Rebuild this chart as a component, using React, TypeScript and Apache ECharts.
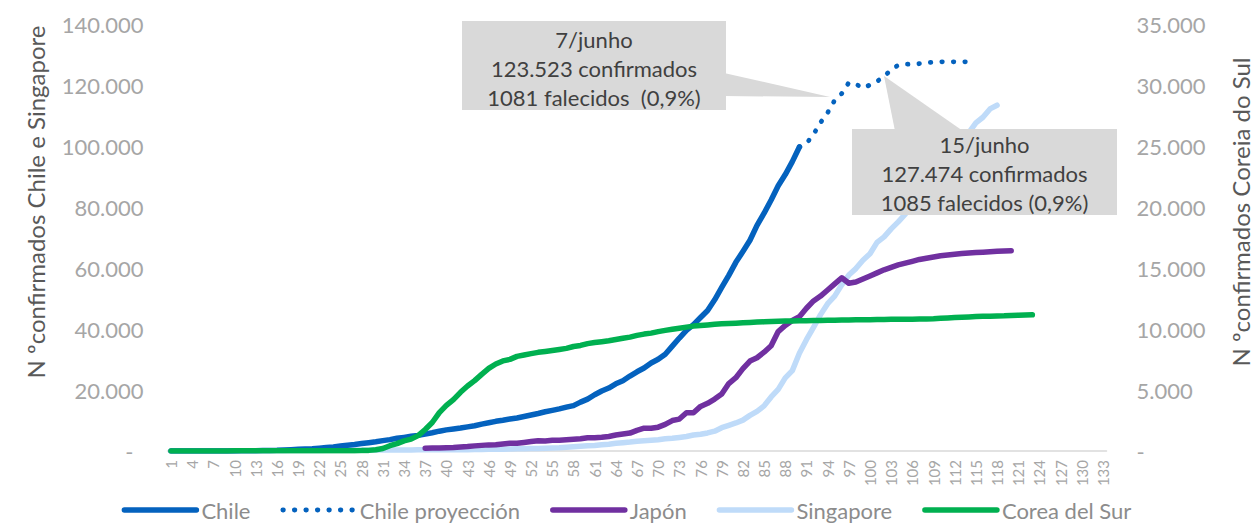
import React, { useEffect, useRef } from "react";
import * as echarts from "echarts";

// Day index (x axis categories)
const days: string[] = Array.from({ length: 133 }, (_, i) => String(i + 1));

// Chile confirmed, days 1..90 (left axis)
const chile = [
  1, 3, 4, 5, 7, 10, 13, 17, 23, 33, 43, 61, 75, 156, 201, 238, 342, 434, 537, 632,
  746, 922, 1142, 1306, 1610, 1909, 2139, 2449, 2738, 3031, 3404, 3737, 4161, 4471, 4815, 5116, 5546, 5972, 6501, 6927,
  7213, 7525, 7917, 8273, 8807, 9252, 9730, 10088, 10507, 10832, 11296, 11812, 12306, 12858, 13331, 13813, 14365, 14885, 16023, 17008,
  18435, 19663, 20643, 22016, 23048, 24581, 25972, 27219, 28866, 30063, 31721, 34381, 37040, 39542, 41428, 43781, 46059, 49579, 53617, 57581,
  61857, 65393, 69102, 73997, 77961, 82289, 86943, 90638, 94858, 99688,
];

// Chile projection, days 90..114 (left axis)
const chileProjStartDay = 90;
const chileProj = [
  99688, 100800, 103800, 107700, 110900, 115000, 117200, 120800, 120300, 119000,
  120000, 121200, 122800, 125000, 126500, 126900, 126700, 127000, 127300, 127500,
  127600, 127600, 127600, 127600, 127600,
];

// Japan confirmed, days 37..120 (right axis)
const japanStartDay = 37;
const japan = [
  228, 241, 256, 274, 293, 331, 360, 420, 461, 502, 511, 581, 639, 639, 701, 773, 839, 825, 878, 889,
  924, 963, 1007, 1086, 1086, 1128, 1193, 1307, 1387, 1468, 1693, 1866, 1866, 1953, 2178, 2495, 2617, 3139, 3139, 3654,
  3906, 4257, 4667, 5530, 6005, 6748, 7370, 7645, 8100, 8626, 9787, 10296, 10700, 11000, 11700, 12300, 12700, 13200, 13700, 14200,
  13750, 13850, 14100, 14350, 14600, 14850, 15050, 15250, 15400, 15550, 15700, 15800, 15900, 16000, 16060, 16120, 16180, 16230, 16270, 16300,
  16340, 16370, 16400, 16420,
];

// Singapore confirmed, days 1..118 (right axis)
const singapore = [
  0, 1, 3, 3, 4, 5, 7, 7, 10, 13,
  16, 18, 18, 24, 28, 28, 30, 33, 40, 45, 47, 50, 58, 67, 72, 75, 77, 81, 84, 84, 85, 85, 89, 89, 91, 93, 93, 93, 102,
  106, 108, 110, 110, 117, 130, 138, 150, 150, 160, 178, 178, 200, 212, 226, 243, 266, 313, 345, 385, 432, 455, 509, 558, 631, 683, 732, 802, 844, 879, 926,
  1000, 1049, 1114, 1189, 1309, 1375, 1481, 1623, 1910, 2108, 2299, 2532, 2918, 3252, 3699, 4427, 5050, 5992, 6588, 8014, 9125, 10141, 11178, 12075, 12693, 13624, 14423, 14951, 15641, 16169,
  17101, 17548, 18205, 18778, 19410, 20198, 20939, 21707, 22460, 23336, 23822, 24671, 25346, 26098, 26891, 27356, 28038, 28343,
];

// South Korea confirmed, days 1..123 (right axis)
const korea = [
  1, 1, 2, 2, 3, 4, 4, 4, 4, 11,
  12, 15, 15, 16, 19, 23, 24, 24, 27, 27, 28, 28, 28, 28, 28, 29, 30, 31, 51, 104, 204, 433, 602, 833, 977, 1261, 1766, 2337, 3150,
  3736, 4212, 4812, 5328, 5766, 6284, 6767, 7134, 7382, 7513, 7755, 7869, 7979, 8086, 8162, 8236, 8320, 8413, 8565, 8652, 8799, 8897, 8961, 9037, 9137, 9241, 9332, 9478, 9583, 9661, 9786,
  9887, 9976, 10062, 10156, 10237, 10284, 10331, 10384, 10423, 10450, 10480, 10512, 10537, 10564, 10591, 10613, 10635, 10653, 10661, 10674, 10683, 10694, 10702, 10708, 10718, 10728, 10738, 10752, 10761, 10765,
  10774, 10780, 10793, 10801, 10804, 10806, 10810, 10822, 10840, 10874, 10909, 10936, 10962, 10991, 11018, 11037, 11050, 11065, 11078, 11110, 11122, 11142, 11165,
];

const leftTicks = { min: 0, max: 140000, interval: 20000 };
const rightTicks = { min: 0, max: 35000, interval: 5000 };

const seriesNames = ["Chile", "Chile proyección", "Japón", "Singapore", "Corea del Sur"];
const colors = ["#0462BE", "#0462BE", "#7030A0", "#BFDBF9", "#00B050"];

const note1 = ["7/junho", "123.523 confirmados", "1081 falecidos  (0,9%)"];
const note2 = ["15/junho", "127.474 confirmados", "1085 falecidos (0,9%)"];
const leftName = "N ºconfirmados Chile e Singapore";
const rightName = "N ºconfirmados Coreia do Sul";

const FONT = "Lato, 'Open Sans', sans-serif";
const DOT: number[] = [0.5, 11];

function fmt(v: number): string {
  if (v === 0) return "-";
  return String(v).replace(/\B(?=(\d{3})+(?!\d))/g, ".");
}

function pad(startDay: number, values: number[]): (number | null)[] {
  const out: (number | null)[] = [];
  for (let i = 1; i < startDay; i++) out.push(null);
  return out.concat(values);
}

export default function App() {
  const ref = useRef<HTMLDivElement>(null);
  useEffect(() => {
    if (!ref.current) return;
    const chart = echarts.init(ref.current, undefined, { renderer: "svg" });
    const lineBase = (i: number, w = 5.5) => ({
      name: seriesNames[i],
      type: "line" as const,
      symbol: "none",
      showSymbol: false,
      smooth: false,
      connectNulls: false,
      color: colors[i],
      lineStyle: { color: colors[i], width: w, cap: "round", join: "round" },
    });
    chart.setOption({
      animation: false,
      grid: { left: 167.5, right: 146.5, top: 24, bottom: 72, containLabel: false },
      legend: {
        data: seriesNames.map((n, i) =>
          i === 1
            ? { name: n, lineStyle: { width: 4.8, type: DOT, cap: "round", color: colors[i] } }
            : { name: n, lineStyle: { width: 5.5, cap: "round", color: colors[i] } }
        ),
        top: 494,
        left: "center",
        itemWidth: 72,
        itemHeight: 6,
        itemGap: 30,
        itemStyle: { opacity: 0 },
        textStyle: { color: "#8C8C8C", fontSize: 22, fontFamily: FONT },
      },
      xAxis: {
        type: "category",
        data: days,
        boundaryGap: true,
        axisLine: { show: true, lineStyle: { color: "#D9D9D9", width: 1.5 } },
        axisTick: { show: false },
        axisLabel: {
          interval: 2,
          rotate: 90,
          margin: 9,
          color: "#A6A6A6",
          fontSize: 15,
          fontFamily: FONT,
        },
        splitLine: { show: false },
      },
      yAxis: [
        {
          type: "value",
          ...leftTicks,
          position: "left",
          axisLine: { show: false },
          axisTick: { show: false },
          splitLine: { show: false },
          axisLabel: {
            margin: 24,
            color: "#A6A6A6",
            fontSize: 22,
            fontFamily: FONT,
            formatter: (v: number) => (v === 0 ? "{d|-}" : fmt(v)),
            rich: { d: { color: "#A6A6A6", fontSize: 22, fontFamily: FONT, padding: [0, 10, 0, 0] } },
          },
        },
        {
          type: "value",
          ...rightTicks,
          position: "right",
          axisLine: { show: false },
          axisTick: { show: false },
          splitLine: { show: false },
          axisLabel: {
            margin: 30,
            color: "#A6A6A6",
            fontSize: 22,
            fontFamily: FONT,
            formatter: (v: number) => fmt(v),
          },
        },
      ],
      series: [
        { ...lineBase(0), yAxisIndex: 0, data: chile, z: 4 },
        {
          ...lineBase(1, 4.8),
          yAxisIndex: 0,
          data: pad(chileProjStartDay, chileProj),
          lineStyle: { color: colors[1], width: 4.8, type: DOT, cap: "round", join: "round" },
          z: 4,
        },
        { ...lineBase(2), yAxisIndex: 1, data: pad(japanStartDay, japan), z: 3 },
        { ...lineBase(3), yAxisIndex: 1, data: singapore, z: 2 },
        { ...lineBase(4), yAxisIndex: 1, data: korea, z: 5 },
      ],
      graphic: [
        {
          type: "text",
          x: 35,
          y: 202,
          rotation: Math.PI / 2,
          style: { text: leftName, fill: "#595959", font: `24px ${FONT}`, align: "center", verticalAlign: "middle" },
        },
        {
          type: "text",
          x: 1240,
          y: 212,
          rotation: Math.PI / 2,
          style: { text: rightName, fill: "#595959", font: `24px ${FONT}`, align: "center", verticalAlign: "middle" },
        },
        // Callout 1
        {
          type: "polygon",
          z: 100,
          shape: { points: [[724, 73], [830, 97], [724, 96]] },
          style: { fill: "#D9D9D9" },
        },
        {
          type: "rect",
          z: 100,
          shape: { x: 462, y: 21, width: 264, height: 89 },
          style: { fill: "#D9D9D9" },
        },
        {
          type: "text",
          z: 101,
          x: 594,
          y: 68,
          style: {
            text: note1.join("\n"),
            fill: "#404040",
            font: `22px ${FONT}`,
            lineHeight: 29,
            align: "center",
            verticalAlign: "middle",
          },
        },
        // Callout 2
        {
          type: "polygon",
          z: 100,
          shape: { points: [[895, 131], [884, 76], [963, 131]] },
          style: { fill: "#D9D9D9" },
        },
        {
          type: "rect",
          z: 100,
          shape: { x: 852, y: 129, width: 265, height: 86 },
          style: { fill: "#D9D9D9" },
        },
        {
          type: "text",
          z: 101,
          x: 984.5,
          y: 173,
          style: {
            text: note2.join("\n"),
            fill: "#404040",
            font: `22px ${FONT}`,
            lineHeight: 29,
            align: "center",
            verticalAlign: "middle",
          },
        },
      ],
    });
    return () => chart.dispose();
  }, []);
  return <div ref={ref} style={{ width: 1253, height: 523, position: "absolute", left: 0, top: 0 }} />;
}
